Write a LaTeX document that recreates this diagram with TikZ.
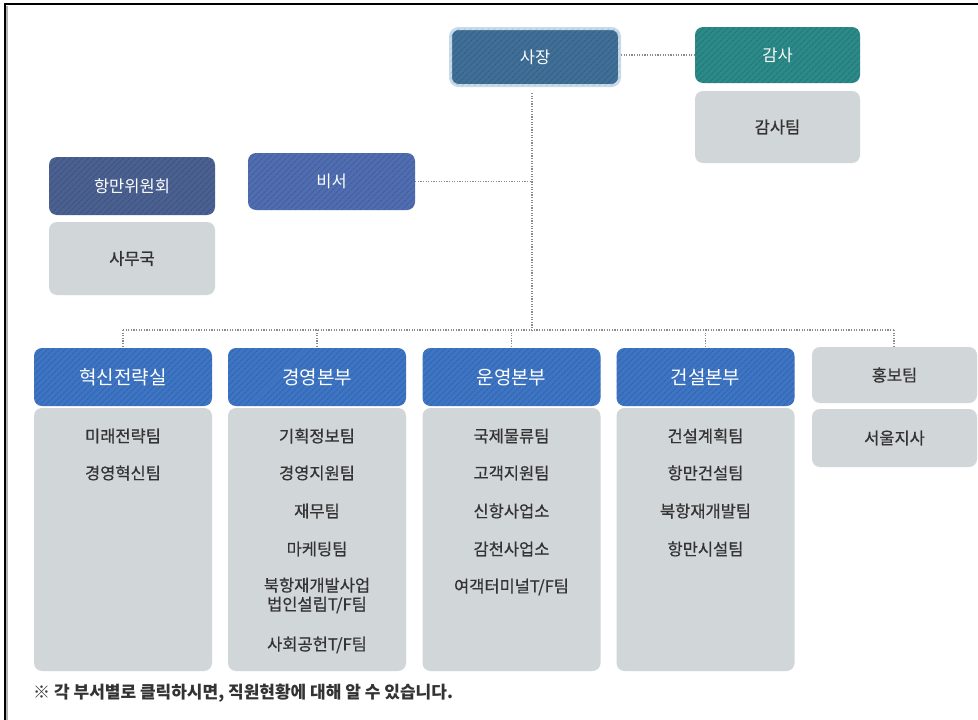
\documentclass[tikz,border=0pt]{standalone}
\usepackage{fontspec}
\setmainfont{Noto Sans CJK KR}
\newfontfamily\medfont[FakeBold=0.6]{Noto Sans CJK KR}
\usetikzlibrary{patterns.meta}
\definecolor{bossc}{HTML}{3F6F97}
\definecolor{bossline}{HTML}{C8DBEA}
\definecolor{auditc}{HTML}{2B8988}
\definecolor{secc}{HTML}{4F6DB0}
\definecolor{commc}{HTML}{4A6090}
\definecolor{headc}{HTML}{3D74C4}
\definecolor{grayc}{HTML}{D1D6D9}
\definecolor{txtc}{HTML}{333333}
\definecolor{dotc}{HTML}{8A8A8A}
\tikzset{
  hatch/.style={postaction={fill opacity=0.13,pattern={Lines[angle=45,distance=4pt,line width=0.9pt]},pattern color=black}},
  colbox/.style={rounded corners=8pt, text=white, inner sep=0pt, font=\fontsize{16.5}{19}\selectfont, hatch},
  headbox/.style={colbox, fill=headc, minimum width=178pt, minimum height=58pt, font=\fontsize{19}{22}\selectfont},
  graybox/.style={rounded corners=8pt, fill=grayc, text=txtc, inner sep=0pt, font=\medfont\fontsize{16.5}{19}\selectfont},
  item/.style={text=txtc, inner sep=0pt, font=\medfont\fontsize{16.5}{19}\selectfont, align=center},
  dotline/.style={draw=dotc, line width=1.3pt, dash pattern=on 1.1pt off 1.5pt},
}
\begin{document}
\begin{tikzpicture}[x=1pt,y=-1pt]
\useasboundingbox (0,0) rectangle (978,720);
\fill[white] (0,0) rectangle (978,720);
% frame
\draw[gray!60, line width=1.2pt] (7,6) -- (7,720);
\draw[black, line width=2pt] (5,4) -- (978,4);
\draw[black, line width=2pt] (5,3) -- (5,720);

% top row
\node[colbox, fill=bossc, draw=bossline, line width=3pt, minimum width=169pt, minimum height=57pt] (boss) at (535,57) {사장};
\node[colbox, fill=auditc, minimum width=165pt, minimum height=56pt] (audit) at (777.5,55) {감사};
\node[graybox, minimum width=165pt, minimum height=72pt] (auditteam) at (777.5,127) {감사팀};
\node[colbox, fill=secc, minimum width=167pt, minimum height=57pt] (sec) at (331.5,181.5) {비서};
\node[colbox, fill=commc, minimum width=166pt, minimum height=58pt] (comm) at (132,186) {항만위원회};
\node[graybox, minimum width=166pt, minimum height=73pt] (office) at (132,258.5) {사무국};

% headers
\node[headbox] (h1) at (123,377) {혁신전략실};
\node[headbox] (h2) at (317,377) {경영본부};
\node[headbox] (h3) at (511.5,377) {운영본부};
\node[headbox] (h4) at (705.5,377) {건설본부};
\node[graybox, minimum width=165pt, minimum height=56pt] (h5) at (894.5,375) {홍보팀};
\node[graybox, minimum width=165pt, minimum height=58pt] (seoul) at (894.5,438) {서울지사};

% bodies
\node[graybox, minimum width=178pt, minimum height=263pt] (b1) at (123,539.5) {};
\node[graybox, minimum width=178pt, minimum height=263pt] (b2) at (317,539.5) {};
\node[graybox, minimum width=178pt, minimum height=263pt] (b3) at (511.5,539.5) {};
\node[graybox, minimum width=178pt, minimum height=263pt] (b4) at (705.5,539.5) {};

% items
\node[item] (i11) at (123,436) {미래전략팀};
\node[item] (i12) at (123,473) {경영혁신팀};

\node[item] (i21) at (317,436) {기획정보팀};
\node[item] (i22) at (317,473) {경영지원팀};
\node[item] (i23) at (317,511) {재무팀};
\node[item] (i24) at (317,549) {마케팅팀};
\node[item, font=\medfont\fontsize{16.5}{19}\selectfont] (i25) at (317,595.5) {북항재개발사업\\법인설립T/F팀};
\node[item] (i26) at (317,645) {사회공헌T/F팀};

\node[item] (i31) at (511.5,436) {국제물류팀};
\node[item] (i32) at (511.5,473) {고객지원팀};
\node[item] (i33) at (511.5,511) {신항사업소};
\node[item] (i34) at (511.5,549) {감천사업소};
\node[item] (i35) at (511.5,587) {여객터미널T/F팀};

\node[item] (i41) at (705.5,436) {건설계획팀};
\node[item] (i42) at (705.5,473) {항만건설팀};
\node[item] (i43) at (705.5,511) {북항재개발팀};
\node[item] (i44) at (705.5,549) {항만시설팀};

% connectors
\coordinate (jtop) at (532,93);
\coordinate (jbot) at (532,330);
\coordinate (hl) at (123,330);
\coordinate (hr) at (894,330);
\draw[dotline] (boss.east |- audit.west) -- (audit.west);
\draw[dotline] (jtop) -- (jbot);
\draw[dotline] (sec.east) -- (sec.east -| jbot);
\draw[dotline] (hl) -- (hr);
\foreach \n in {h1,h2,h3,h4} \draw[dotline] (\n.north |- hl) -- (\n.north);
\draw[dotline] (hr) -- (hr |- h5.north);

% footnote
\node[anchor=west, inner sep=0pt, text=txtc, font=\bfseries\fontsize{17}{20}\selectfont] (note) at (33,693) {※ 각 부서별로 클릭하시면, 직원현황에 대해 알 수 있습니다.};
\end{tikzpicture}
\end{document}
